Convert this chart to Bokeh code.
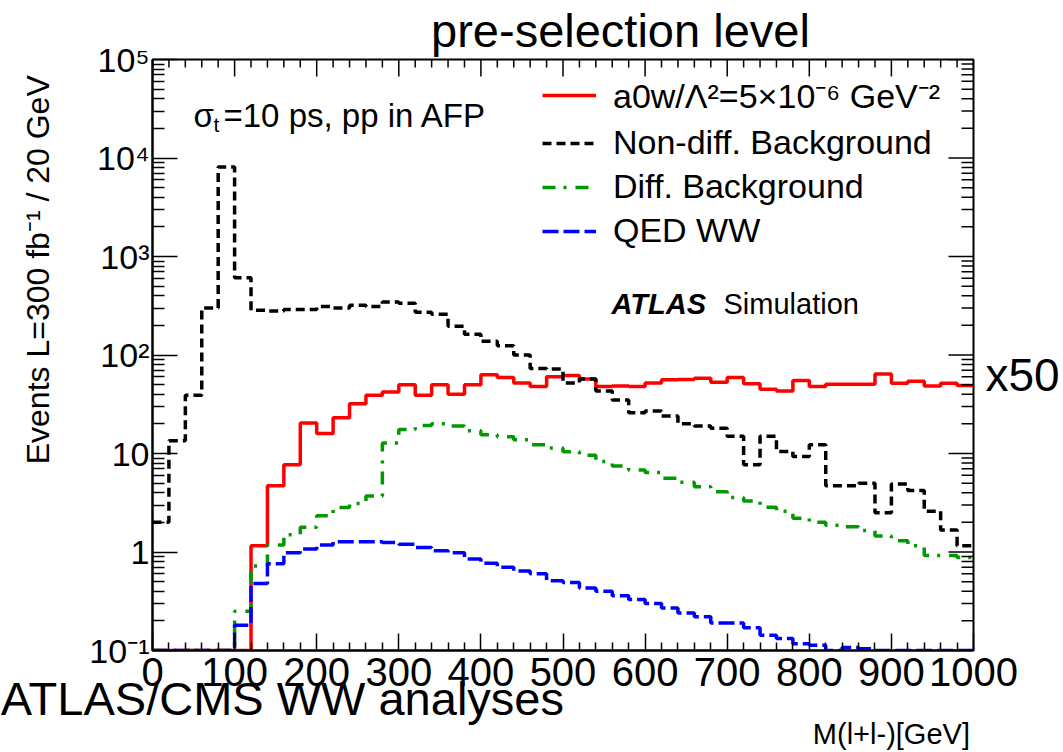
import numpy as np
from bokeh.plotting import figure
from bokeh.models import (Range1d, FixedTicker, LogAxis, LinearAxis, Label, Legend, LegendItem,
                          CustomJSTickFormatter)
from bokeh.embed import file_html
from bokeh.resources import INLINE

# ---------------- data (20 GeV bins, 0..1000 GeV) ----------------
bin_edges = list(range(0, 1020, 20))

signal_a0w = [0, 0, 0, 0, 0, 0, 1.16, 4.7, 7.7, 20.4,
              16, 23, 32, 39, 42, 50, 39, 50, 40, 50,
              63, 59, 52, 48, 60, 62, 57, 48, 48.5, 48,
              52, 56, 56.5, 58, 53, 59, 51, 45, 43, 55,
              48, 50.6, 50.6, 50.6, 64, 51.6, 54, 48.5, 51.6, 49]

nondiff_bkg = [2.0, 13.5, 39, 300, 8100, 610, 285, 280, 290, 290,
               310, 300, 320, 310, 345, 335, 272, 260, 196, 162,
               138, 124, 100, 73, 72, 52, 57, 43, 35, 26,
               27, 24, 20, 19, 18, 15, 7.7, 15, 10.5, 9.3,
               12.3, 4.7, 4.7, 5.0, 2.5, 4.9, 4.2, 2.6, 1.67, 1.16]

diff_bkg = [0, 0, 0, 0, 0, 0.25, 0.72, 1.18, 1.5, 1.78,
            2.33, 2.83, 3.1, 3.7, 12.8, 17.5, 19.2, 20, 19, 17,
            15.5, 14.8, 13.8, 12.3, 11.4, 10.4, 9.6, 8.3, 7.45, 6.8,
            6.4, 5.6, 5.1, 4.6, 4.1, 3.57, 3.3, 2.85, 2.6, 2.2,
            2.0, 1.87, 1.8, 1.65, 1.45, 1.3, 1.16, 0.92, 0.92, 0.88]

qed_ww = [0, 0, 0, 0, 0, 0.18, 0.48, 0.76, 0.98, 1.07,
          1.18, 1.27, 1.27, 1.27, 1.25, 1.2, 1.11, 1.03, 0.98, 0.85,
          0.77, 0.70, 0.64, 0.6, 0.51, 0.49, 0.43, 0.4, 0.36, 0.33,
          0.3, 0.27, 0.24, 0.22, 0.19, 0.19, 0.17, 0.143, 0.132, 0.117,
          0.113, 0.098, 0.107, 0.104, 0.09, 0.085, 0.08, 0.075, 0.07, 0.065]

y_major = [0.1, 1, 10, 100, 1000, 10000, 100000]
x_major = list(range(0, 1100, 100))
X_MIN, X_MAX = 0, 1000
Y_MIN, Y_MAX = 0.1, 1e5

legend_labels = ["a0w/\u039b\u00b2=5\u00d710\u207b\u2076 GeV\u207b\u00b2",
                 "Non-diff. Background", "Diff. Background", "QED WW"]
title_text = "pre-selection level"
ylabel_text = "Events L=300 fb\u207b\u00b9 / 20 GeV"
xlabel_text = "M(l+l-)[GeV]"
banner_text = "ATLAS/CMS WW analyses"
scale_text = "x50"

FONT = "Liberation Sans"

# ---------------- figure ----------------
FL, FT, FR, FB = 152, 59, 973, 652
W, H = 1063, 752
p = figure(width=W, height=H, output_backend="svg", toolbar_location=None,
           x_range=Range1d(X_MIN, X_MAX), y_range=Range1d(Y_MIN, Y_MAX), y_axis_type="log",
           min_border_left=FL, min_border_right=W - FR, min_border_top=FT, min_border_bottom=H - FB)
p.xgrid.visible = False
p.ygrid.visible = False
p.outline_line_color = "black"
p.outline_line_width = 2
p.background_fill_color = "white"
p.border_fill_color = "white"


def step_xy(vals):
    v = np.clip(np.asarray(vals, dtype=float), Y_MIN, None)
    return np.asarray(bin_edges, dtype=float), np.append(v, v[-1])


xs, ys = step_xy(signal_a0w)
r_sig = p.step(xs, ys, mode="after", line_color="#ff0000", line_width=3.5)
xs, ys = step_xy(nondiff_bkg)
r_nd = p.step(xs, ys, mode="after", line_color="black", line_width=3.5, line_dash="9 5")
xs, ys = step_xy(diff_bkg)
r_d = p.step(xs, ys, mode="after", line_color="#009900", line_width=3.5, line_dash="13 8 3 9")
xs, ys = step_xy(qed_ww)
r_q = p.step(xs, ys, mode="after", line_color="#0000ff", line_width=3.5, line_dash="16 5")

# ---------------- ticks ----------------
y_minor = [m * d for d in y_major[:-1] for m in range(2, 10)]
x_minor = [x for x in range(0, 1020, 20) if x not in x_major]

ylab_code = """
const e = Math.round(Math.log10(tick));
const sup = {'-':'\u207b','0':'\u2070','1':'\u00b9','2':'\u00b2','3':'\u00b3','4':'\u2074','5':'\u2075','6':'\u2076','7':'\u2077','8':'\u2078','9':'\u2079'};
if (e == 0) return '1';
if (e == 1) return '10';
return '10' + String(e).split('').map(c => sup[c]).join('');
"""

xax = p.below[0]
yax = p.left[0]
for ax, maj, mnr, tin, tmin in [(xax, x_major, x_minor, 17, 8), (yax, y_major, y_minor, 25, 12)]:
    ax.ticker = FixedTicker(ticks=maj, minor_ticks=mnr)
    ax.axis_line_width = 2
    ax.major_tick_in = tin
    ax.minor_tick_in = tmin
    ax.major_tick_out = 0
    ax.minor_tick_out = 0
    ax.major_tick_line_width = 1.5
    ax.minor_tick_line_width = 1.5
    ax.major_label_text_font = FONT
    ax.major_label_text_color = "black"

yax.formatter = CustomJSTickFormatter(code=ylab_code)
yax.major_label_text_font_size = "34px"
yax.major_label_standoff = 3
xax.major_label_text_font_size = "40px"
xax.major_label_standoff = 7

# mirrored ticks on the top and right frame edges (inward, same tick lists as the axes)
p.segment(x0=x_major, y0=[Y_MAX] * len(x_major), x1=x_major, y1=[10 ** (5 - 17 / 98.83)] * len(x_major),
          line_color="black", line_width=1.5)
p.segment(x0=x_minor, y0=[Y_MAX] * len(x_minor), x1=x_minor, y1=[10 ** (5 - 8 / 98.83)] * len(x_minor),
          line_color="black", line_width=1.5)
p.segment(x0=[X_MAX] * len(y_major), y0=y_major, x1=[X_MAX - 25 / 0.821] * len(y_major), y1=y_major,
          line_color="black", line_width=1.5)
p.segment(x0=[X_MAX] * len(y_minor), y0=y_minor, x1=[X_MAX - 12 / 0.821] * len(y_minor), y1=y_minor,
          line_color="black", line_width=1.5)


# text-only axes used to place the outer texts (one tick each, no lines)
def text_axis(cls, side, pos, text, size, standoff, orientation="horizontal"):
    ax = cls(ticker=FixedTicker(ticks=[pos], minor_ticks=[]),
             formatter=CustomJSTickFormatter(args=dict(t=text), code="return t"),
             axis_line_color=None, major_tick_line_color=None, minor_tick_line_color=None,
             major_tick_in=0, major_tick_out=0, minor_tick_in=0, minor_tick_out=0,
             major_label_standoff=standoff, major_label_text_font=FONT,
             major_label_text_font_size=f"{size}px", major_label_text_color="black",
             major_label_orientation=orientation)
    p.add_layout(ax, side)
    return ax


text_axis(LinearAxis, "above", 570, title_text, 47, 3)
text_axis(LogAxis, "left", 733, ylabel_text, 32, 30, orientation="parallel")
text_axis(LinearAxis, "below", 157.6, banner_text, 47, -17)
text_axis(LinearAxis, "below", 900, xlabel_text, 29, -10)
text_axis(LogAxis, "right", 62, scale_text, 46, 12)

# ---------------- legend ----------------
legend = Legend(items=[LegendItem(label=t, renderers=[r]) for t, r in
                       zip(legend_labels, [r_sig, r_nd, r_d, r_q])],
                location=(390, 400), background_fill_alpha=0, border_line_alpha=0,
                padding=0, margin=0, spacing=5, glyph_width=54, glyph_height=34,
                label_height=34, label_standoff=17, label_text_font=FONT,
                label_text_font_size="34px", label_text_color="black")
p.add_layout(legend)


# ---------------- inner texts (frame-relative screen units) ----------------
def lab(text, cx, cy, size, style="normal"):
    p.add_layout(Label(x=cx - FL, y=FB - cy, x_units="screen", y_units="screen", text=text,
                       text_font=FONT, text_font_size=f"{size}px", text_align="left",
                       text_baseline="alphabetic", text_font_style=style, text_color="black"))


lab("ATLAS", 611, 305, 29, style="bold italic")
lab("Simulation", 723, 305, 29)
lab("\u03c3", 193, 117, 33)
lab("t", 213, 126, 21)
lab("=10 ps, pp in AFP", 223, 117, 33)

open("out.html", "w").write(file_html(p, INLINE))
